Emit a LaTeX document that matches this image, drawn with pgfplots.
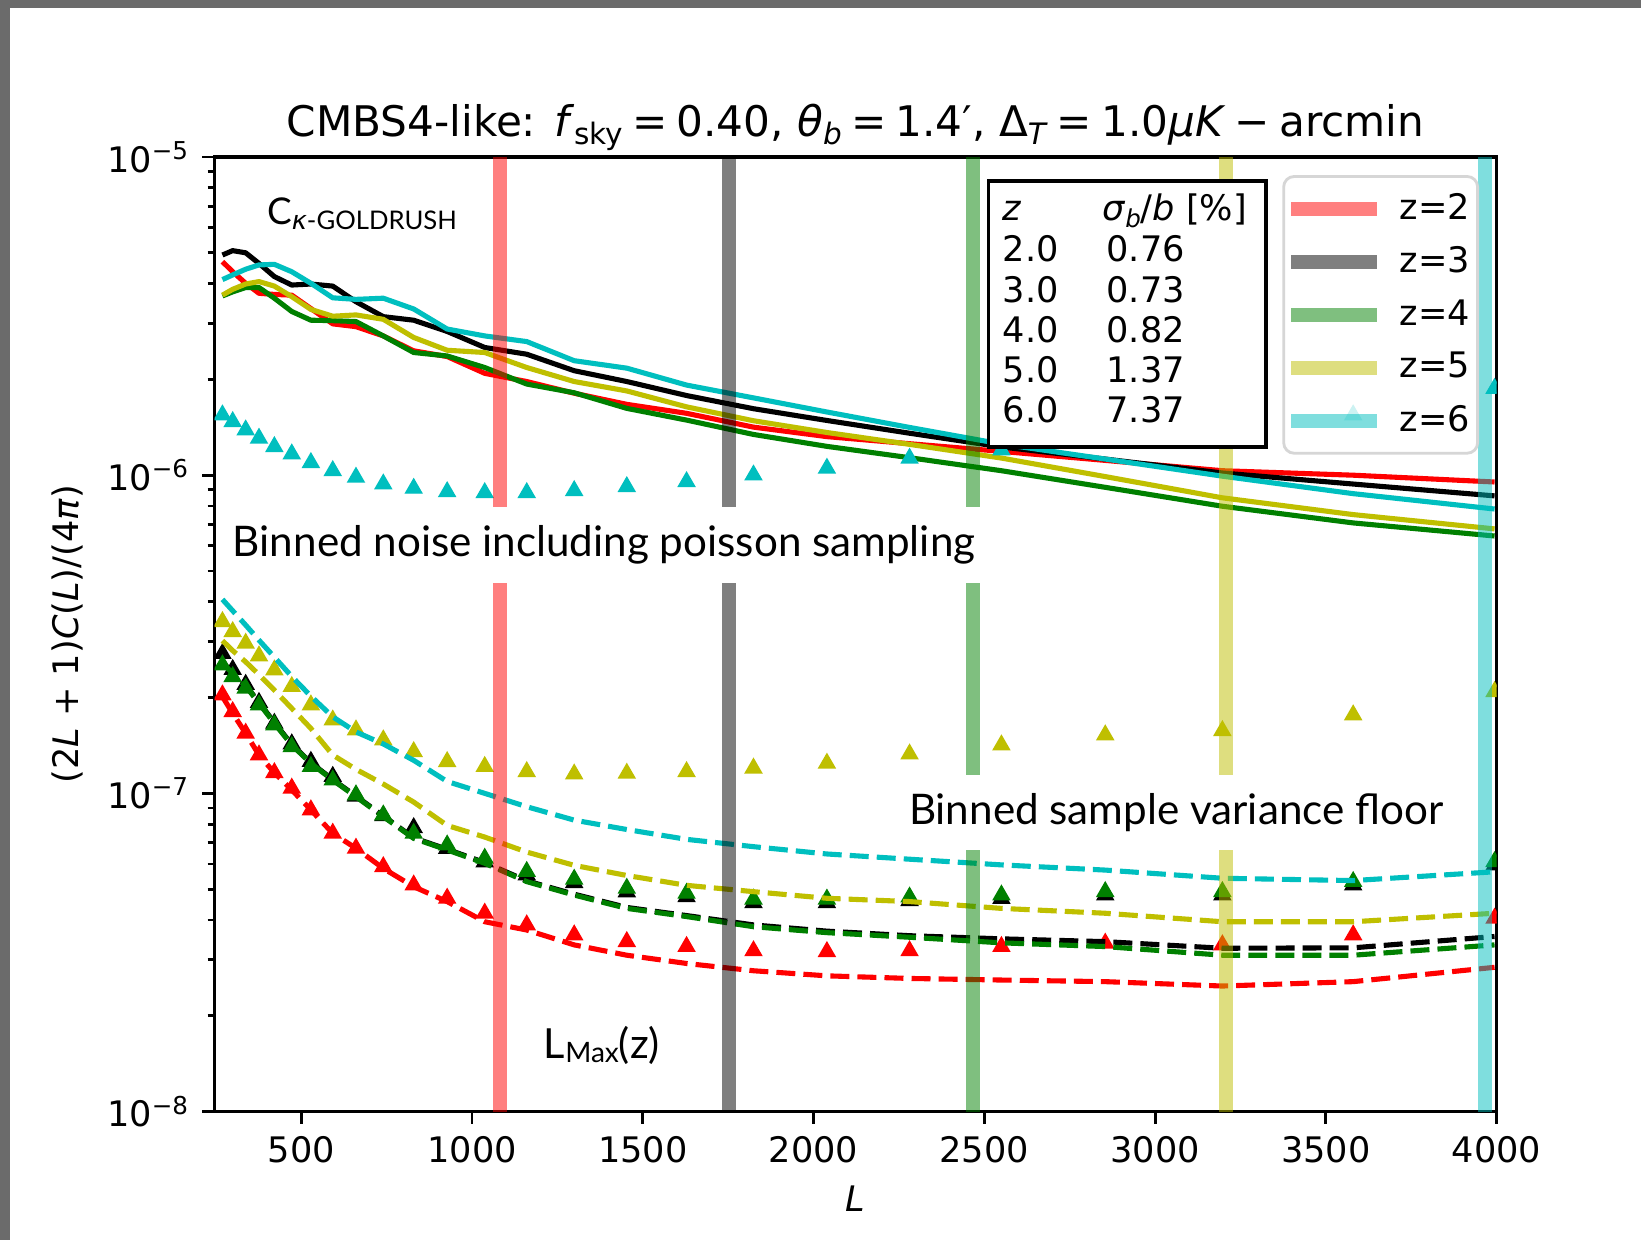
\documentclass[border=0pt]{standalone}
\usepackage{fontspec}
\setmainfont{DejaVu Sans}
\newfontfamily\annot{Lato}
\newfontfamily\dejavu{DejaVu Sans}
\usepackage{pgfplots}
\usepackage{pgfplotstable}
\pgfplotsset{compat=1.18}

\definecolor{mr}{rgb}{1,0,0}
\definecolor{mk}{rgb}{0,0,0}
\definecolor{mg}{rgb}{0,0.5,0}
\definecolor{my}{rgb}{0.75,0.75,0}
\definecolor{mc}{rgb}{0,0.75,0.75}
\definecolor{framegray}{gray}{0.42}

\newcommand{\tsub}[1]{\raisebox{-2.4pt}{\fontsize{8.4}{9}\selectfont #1}}
\newcommand{\eq}{\hspace{2.6pt}=\hspace{2.6pt}}

% signal C_kappa-GOLDRUSH
\pgfplotstableread{
L r k g y c
269 4.69e-6 4.92e-6 3.66e-6 3.68e-6 4.12e-6
299 4.36e-6 5.08e-6 3.77e-6 3.84e-6 4.26e-6
337 4.01e-6 5.00e-6 3.89e-6 3.99e-6 4.44e-6
376 3.73e-6 4.63e-6 3.89e-6 4.06e-6 4.58e-6
421 3.70e-6 4.21e-6 3.60e-6 3.93e-6 4.60e-6
472 3.68e-6 3.96e-6 3.27e-6 3.64e-6 4.36e-6
528 3.34e-6 3.99e-6 3.07e-6 3.32e-6 4.01e-6
592 2.99e-6 3.93e-6 3.06e-6 3.16e-6 3.61e-6
660 2.93e-6 3.51e-6 3.04e-6 3.19e-6 3.57e-6
740 2.74e-6 3.15e-6 2.74e-6 3.09e-6 3.60e-6
829 2.46e-6 3.07e-6 2.43e-6 2.71e-6 3.33e-6
927 2.36e-6 2.83e-6 2.37e-6 2.47e-6 2.88e-6
1037 2.09e-6 2.52e-6 2.18e-6 2.43e-6 2.74e-6
1160 1.97e-6 2.40e-6 1.934e-6 2.18e-6 2.63e-6
1299 1.81e-6 2.13e-6 1.816e-6 1.97e-6 2.29e-6
1453 1.67e-6 1.97e-6 1.622e-6 1.84e-6 2.17e-6
1628 1.565e-6 1.78e-6 1.49e-6 1.64e-6 1.92e-6
1824 1.416e-6 1.618e-6 1.343e-6 1.483e-6 1.75e-6
2039 1.322e-6 1.486e-6 1.232e-6 1.362e-6 1.58e-6
2281 1.256e-6 1.355e-6 1.135e-6 1.25e-6 1.413e-6
2550 1.188e-6 1.227e-6 1.033e-6 1.132e-6 1.253e-6
2854 1.113e-6 1.124e-6 9.16e-7 9.9e-7 1.124e-6
3197 1.033e-6 1.016e-6 7.99e-7 8.49e-7 9.93e-7
3580 1.0e-6 9.38e-7 7.08e-7 7.52e-7 8.75e-7
3994 9.52e-7 8.61e-7 6.44e-7 6.78e-7 7.83e-7
}\signal

% binned sample variance floor
\pgfplotstableread{
L r k g y c
269 2.013e-7 2.58e-7 2.564e-7 3.02e-7 4.07e-7
299 1.785e-7 2.40e-7 2.384e-7 2.81e-7 3.75e-7
337 1.545e-7 2.19e-7 2.175e-7 2.59e-7 3.38e-7
376 1.32e-7 1.93e-7 1.919e-7 2.36e-7 3.03e-7
421 1.161e-7 1.67e-7 1.661e-7 2.11e-7 2.68e-7
472 1.025e-7 1.425e-7 1.419e-7 1.85e-7 2.33e-7
528 8.87e-8 1.248e-7 1.243e-7 1.60e-7 2.02e-7
592 7.49e-8 1.105e-7 1.101e-7 1.32e-7 1.74e-7
660 6.72e-8 9.80e-8 9.76e-8 1.19e-7 1.56e-7
740 5.81e-8 8.49e-8 8.45e-8 1.07e-7 1.43e-7
829 5.09e-8 7.25e-8 7.22e-8 9.39e-8 1.27e-7
927 4.57e-8 6.67e-8 6.64e-8 7.93e-8 1.09e-7
1037 3.95e-8 6.06e-8 6.03e-8 7.29e-8 1.00e-7
1160 3.72e-8 5.31e-8 5.28e-8 6.54e-8 9.08e-8
1299 3.34e-8 4.82e-8 4.79e-8 5.94e-8 8.24e-8
1453 3.10e-8 4.38e-8 4.35e-8 5.52e-8 7.70e-8
1628 2.92e-8 4.13e-8 4.10e-8 5.14e-8 7.17e-8
1824 2.77e-8 3.86e-8 3.81e-8 4.91e-8 6.80e-8
2039 2.67e-8 3.69e-8 3.65e-8 4.68e-8 6.45e-8
2281 2.62e-8 3.57e-8 3.53e-8 4.57e-8 6.21e-8
2550 2.59e-8 3.49e-8 3.39e-8 4.35e-8 5.96e-8
2854 2.56e-8 3.42e-8 3.30e-8 4.20e-8 5.74e-8
3197 2.48e-8 3.26e-8 3.10e-8 3.95e-8 5.41e-8
3580 2.56e-8 3.27e-8 3.10e-8 3.95e-8 5.32e-8
3994 2.84e-8 3.55e-8 3.34e-8 4.20e-8 5.67e-8
}\floor

% binned noise including poisson sampling
\pgfplotstableread{
L r k g y c
269 2.038e-7 2.75e-7 2.533e-7 3.465e-7 1.546e-6
299 1.806e-7 2.45e-7 2.327e-7 3.222e-7 1.473e-6
337 1.545e-7 2.20e-7 2.14e-7 2.962e-7 1.387e-6
376 1.320e-7 1.93e-7 1.896e-7 2.702e-7 1.306e-6
421 1.161e-7 1.66e-7 1.641e-7 2.442e-7 1.229e-6
472 1.038e-7 1.43e-7 1.402e-7 2.165e-7 1.166e-6
528 8.87e-8 1.26e-7 1.214e-7 1.896e-7 1.095e-6
592 7.49e-8 1.13e-7 1.101e-7 1.700e-7 1.033e-6
660 6.72e-8 9.8e-8 9.89e-8 1.582e-7 9.85e-7
740 5.88e-8 8.5e-8 8.55e-8 1.472e-7 9.38e-7
829 5.15e-8 7.8e-8 7.49e-8 1.352e-7 9.09e-7
927 4.68e-8 6.71e-8 6.88e-8 1.258e-7 8.87e-7
1037 4.20e-8 6.09e-8 6.25e-8 1.214e-7 8.81e-7
1160 3.86e-8 5.54e-8 5.68e-8 1.170e-7 8.81e-7
1299 3.59e-8 5.24e-8 5.37e-8 1.150e-7 8.94e-7
1453 3.42e-8 4.90e-8 5.03e-8 1.156e-7 9.20e-7
1628 3.30e-8 4.73e-8 4.85e-8 1.170e-7 9.54e-7
1824 3.20e-8 4.53e-8 4.65e-8 1.200e-7 1.001e-6
2039 3.18e-8 4.53e-8 4.65e-8 1.243e-7 1.051e-6
2281 3.20e-8 4.60e-8 4.72e-8 1.329e-7 1.130e-6
2550 3.30e-8 4.67e-8 4.79e-8 1.419e-7 1.200e-6
2854 3.38e-8 4.79e-8 4.91e-8 1.526e-7 1.290e-6
3197 3.34e-8 4.79e-8 4.91e-8 1.574e-7 1.407e-6
3580 3.59e-8 5.15e-8 5.28e-8 1.764e-7 1.546e-6
3994 4.05e-8 5.95e-8 6.10e-8 2.088e-7 1.874e-6
}\noise

\begin{document}
\begin{tikzpicture}
% page background and the grey screenshot frame
\fill[white] (-21.46mm,-12.85mm) rectangle (142.64mm,111.15mm);
\fill[framegray] (-21.46mm,110.35mm) rectangle (142.64mm,111.15mm);
\fill[framegray] (-21.46mm,-12.85mm) rectangle (-20.46mm,111.15mm);
\begin{axis}[
  at={(0,0)}, anchor=south west,
  width=128.2mm, height=95.45mm, scale only axis,
  ymode=log,
  xmin=246, xmax=4000, ymin=1e-8, ymax=1e-5,
  clip marker paths=true,
  xtick={500,1000,1500,2000,2500,3000,3500,4000},
  xticklabels={500,1000,1500,2000,2500,3000,3500,4000},
  ytick={1e-8,1e-7,1e-6,1e-5},
  yticklabels={10\textsuperscript{−8},10\textsuperscript{−7},10\textsuperscript{−6},10\textsuperscript{−5}},
  minor ytick={2e-8,3e-8,4e-8,5e-8,6e-8,7e-8,8e-8,9e-8,2e-7,3e-7,4e-7,5e-7,6e-7,7e-7,8e-7,9e-7,2e-6,3e-6,4e-6,5e-6,6e-6,7e-6,8e-6,9e-6},
  tick align=outside, tick pos=left,
  major tick length=3.5pt, minor tick length=2pt,
  every tick/.style={black, line width=0.8pt},
  axis line style={line width=0.9pt},
  tick label style={font=\fontsize{10}{12}\selectfont},
  title={CMBS4-like: \textit{f}\tsub{sky}\eq 0.40, \textit{θ}\tsub{\textit{b}}\eq 1.4′, Δ\tsub{\textit{T}}\eq 1.0\textit{μK}\hspace{2.6pt}−\hspace{2.6pt}arcmin},
  every axis title/.style={at={(axis description cs:0.5,1.022)}, anchor=base, font=\fontsize{12}{14}\selectfont},
  xlabel={\textit{L}},
  every axis x label/.style={at={(axis description cs:0.5,-0.105)}, anchor=base, font=\fontsize{10}{12}\selectfont},
  ylabel={(2\textit{L} + 1)\textit{C}(\textit{L})/(4\textit{π})},
  every axis y label/.style={at={(axis description cs:-0.1144,0.5)}, rotate=90, anchor=center, font=\fontsize{10}{12}\selectfont},
  legend style={at={(rel axis cs:0.9863,0.9811)}, anchor=north east,
    draw=black!16, line width=0.8pt, rounded corners=3pt,
    fill=white, fill opacity=0.8, text opacity=1,
    font=\fontsize{10}{12}\selectfont,
    inner xsep=0.2pt, inner ysep=2.8pt, row sep=2.2pt,
    /tikz/every odd column/.append style={column sep=2.5pt}},
  legend cell align=left,
  legend image code/.code={\draw[#1, line cap=butt] (0pt,0pt) -- (24.3pt,0pt);},
  sol/.style={line width=1.45pt, line join=round, forget plot},
  dsh/.style={line width=1.45pt, dash pattern=on 5.4pt off 2.3pt, forget plot},
  tri/.style={only marks, mark=triangle*, mark size=2.65pt, mark options={draw=none}, forget plot},
  band/.style={line width=4pt, opacity=0.5, line cap=butt},
]
% z=2
\addplot[sol, mr] table[x=L, y=r] {\signal};
\addplot[dsh, mr] table[x=L, y=r] {\floor};
\addplot[tri, mr, mark options={fill=mr}] table[x=L, y=r] {\noise};
% z=3
\addplot[sol, mk] table[x=L, y=k] {\signal};
\addplot[dsh, mk] table[x=L, y=k] {\floor};
\addplot[tri, mk, mark options={fill=mk}] table[x=L, y=k] {\noise};
% z=4
\addplot[sol, mg] table[x=L, y=g] {\signal};
\addplot[dsh, mg] table[x=L, y=g] {\floor};
\addplot[tri, mg, mark options={fill=mg}] table[x=L, y=g] {\noise};
% z=5
\addplot[sol, my] table[x=L, y=y] {\signal};
\addplot[dsh, my] table[x=L, y=y] {\floor};
\addplot[tri, my, mark options={fill=my}] table[x=L, y=y] {\noise};
% z=6
\addplot[sol, mc] table[x=L, y=c] {\signal};
\addplot[dsh, mc] table[x=L, y=c] {\floor};
\addplot[tri, mc, mark options={fill=mc}] table[x=L, y=c] {\noise};

% L_max(z) bands
\addplot[band, mr] coordinates {(1081,1e-8) (1081,4.57e-7)};
\addlegendentry{z=2\hspace{2.3pt}}
\addplot[band, mr, forget plot] coordinates {(1081,7.96e-7) (1081,1e-5)};
\addplot[band, mk] coordinates {(1752,1e-8) (1752,4.57e-7)};
\addlegendentry{z=3\hspace{2.3pt}}
\addplot[band, mk, forget plot] coordinates {(1752,7.96e-7) (1752,1e-5)};
\addplot[band, mg] coordinates {(2467,1e-8) (2467,6.64e-8)};
\addlegendentry{z=4\hspace{2.3pt}}
\addplot[band, mg, forget plot] coordinates {(2467,1.143e-7) (2467,4.57e-7)};
\addplot[band, mg, forget plot] coordinates {(2467,7.96e-7) (2467,1e-5)};
\addplot[band, my] coordinates {(3207,1e-8) (3207,6.64e-8)};
\addlegendentry{z=5\hspace{2.3pt}}
\addplot[band, my, forget plot] coordinates {(3207,1.143e-7) (3207,1e-5)};
\addplot[band, mc] coordinates {(3967,1e-8) (3967,1e-5)};
\addlegendentry{z=6\hspace{2.3pt}}

% annotations
\node[anchor=base west, inner sep=0pt] at (rel axis cs:0.0405,0.9288)
  {\annot\fontsize{10.5}{12}\selectfont C\raisebox{-1.2pt}{\fontsize{7.3}{8}\selectfont{\dejavu\itshape κ}-GOLDRUSH}};
\node[anchor=base west, inner sep=0pt] at (rel axis cs:0.0138,0.5812)
  {\annot\fontsize{12}{14}\selectfont Binned noise including poisson sampling};
\node[anchor=base west, inner sep=0pt] at (rel axis cs:0.5411,0.3002)
  {\annot\fontsize{12}{14}\selectfont Binned sample variance floor};
\node[anchor=base west, inner sep=0pt] at (rel axis cs:0.2564,0.0557)
  {\annot\fontsize{11.8}{14}\selectfont L\raisebox{-1.2pt}{\fontsize{8}{9}\selectfont Max}(z)};
\end{axis}

% sigma_b/b table box (drawn above the data, as in the reference)
\node[draw=black, line width=1pt, fill=white, anchor=north west, minimum width=27.77mm, minimum height=26.57mm, inner sep=0pt] at (77.21mm,93.22mm) {};
\begin{scope}[every node/.style={anchor=base west, inner sep=0pt, font=\fontsize{10}{12}\selectfont}]
\node at (78.74mm,89.15mm) {\textit{z}};
\node at (88.68mm,89.15mm) {\textit{σ}\raisebox{-2pt}{\fontsize{7}{8}\selectfont\textit{b}}/\textit{b} [\%]};
\node at (78.74mm,84.98mm) {2.0};
\node at (89.12mm,84.98mm) {0.76};
\node at (78.74mm,80.92mm) {3.0};
\node at (89.12mm,80.92mm) {0.73};
\node at (78.74mm,76.92mm) {4.0};
\node at (89.12mm,76.92mm) {0.82};
\node at (78.74mm,72.92mm) {5.0};
\node at (89.12mm,72.92mm) {1.37};
\node at (78.74mm,68.92mm) {6.0};
\node at (89.12mm,68.92mm) {7.37};
\end{scope}
\pgfresetboundingbox
\path (-21.46mm,-12.85mm) rectangle (142.64mm,111.15mm);
\end{tikzpicture}
\end{document}
